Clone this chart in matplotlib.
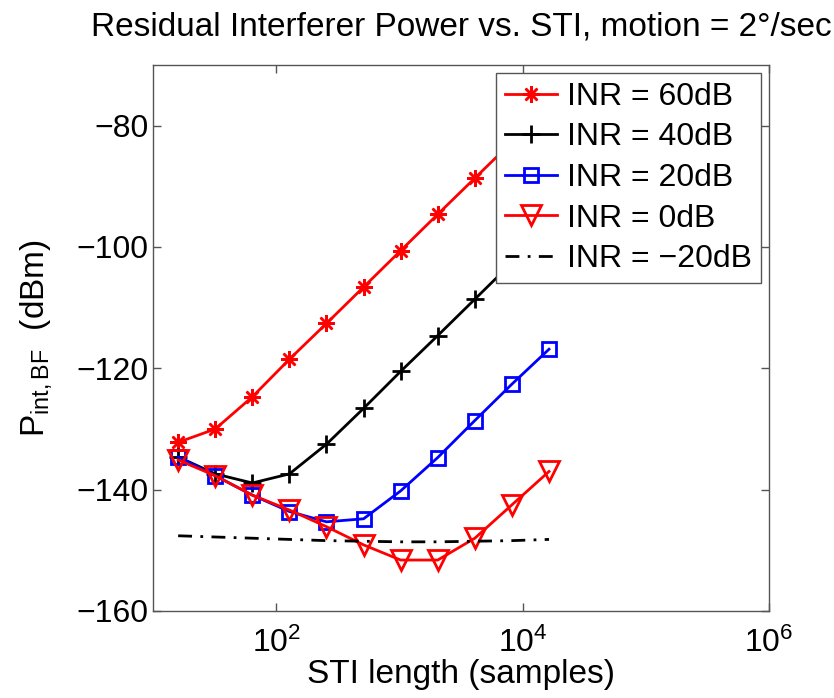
import matplotlib
matplotlib.use("Agg")
import matplotlib.pyplot as plt
import numpy as np

plt.rcParams['font.family'] = ['Liberation Sans', 'DejaVu Sans']
plt.rcParams['mathtext.fontset'] = 'custom'
plt.rcParams['mathtext.rm'] = 'Liberation Sans'
plt.rcParams['mathtext.it'] = 'Liberation Sans:italic'
plt.rcParams['mathtext.bf'] = 'Liberation Sans:bold'
plt.rcParams['axes.unicode_minus'] = True

# STI lengths (samples)
sti = [16, 32, 64, 128, 256, 512, 1024, 2048, 4096, 8192, 16384]

inr60 = [-132.2, -130.0, -124.7, -118.5, -112.6, -106.6, -100.6, -94.6, -88.65, -82.7, -76.7]
inr40 = [-134.6, -137.4, -138.9, -137.4, -132.5, -126.6, -120.5, -114.6, -108.6, -102.6, -96.6]
inr20 = [-134.6, -137.7, -140.9, -143.6, -145.3, -144.8, -140.2, -134.7, -128.6, -122.6, -116.85]
inr0 = [-135.1, -137.7, -140.9, -143.35, -146.1, -149.1, -151.6, -151.6, -148.0, -142.5, -137.0]
inrm20 = [-147.6, -147.8, -148.0, -148.2, -148.4, -148.5, -148.6, -148.6, -148.5, -148.4, -148.2]

labels = ['INR = 60dB', 'INR = 40dB', 'INR = 20dB', 'INR = 0dB', 'INR = \u221220dB']

fig = plt.figure(figsize=(8.34, 6.98), dpi=100)
ax = fig.add_axes([153/834, 1-611/698, (769-153)/834, (611-65)/698])

lw = 2.0
ax.plot(sti, inr60, color='#ff0000', lw=lw, marker=(8, 2, 0), ms=12, mew=1.8, label=labels[0])
ax.plot(sti, inr40, color='black', lw=lw, marker='+', ms=13, mew=2.0, label=labels[1])
ax.plot(sti, inr20, color='#0000ff', lw=lw, marker='s', ms=10, mew=2.0, mfc='none', label=labels[2])
ax.plot(sti, inr0, color='#ff0000', lw=lw, marker='v', ms=15, mew=2.0, mfc='none', label=labels[3])
ax.plot(sti, inrm20, color='black', lw=lw, ls=(0, (5, 3, 1, 3)), label=labels[4])

ax.set_xscale('log')
ax.set_xlim(10, 1e6)
ax.set_ylim(-160, -70)
ax.set_xticks([1e2, 1e4, 1e6])
ax.xaxis.set_minor_locator(matplotlib.ticker.NullLocator())
ax.set_xticklabels([r'$10^{2}$', r'$10^{4}$', r'$10^{6}$'])
ax.set_yticks([-160, -140, -120, -100, -80])

for s in ax.spines.values():
    s.set_color('#555555')
    s.set_linewidth(1.0)
ax.tick_params(which='both', direction='in', top=True, right=True, length=6,
               width=1.0, color='#555555', labelsize=23)
ax.tick_params(axis='x', pad=12)
ax.tick_params(axis='y', pad=3)

ax.set_title('Residual Interferer Power vs. STI, motion = 2\u00b0/sec', fontsize=24, pad=21)
ax.set_xlabel('STI length (samples)', fontsize=24, labelpad=0)
ax.set_ylabel(r'P$_{\rm int,BF}$  (dBm)', fontsize=24, labelpad=16)

leg = ax.legend(loc='upper right', fontsize=23, frameon=True, fancybox=False,
                edgecolor='#555555', framealpha=1, handlelength=1.65,
                handletextpad=0.3, labelspacing=0.33, borderpad=0.28,
                borderaxespad=0.25)
leg.get_frame().set_linewidth(1.0)

fig.savefig('out.png', dpi=100)
